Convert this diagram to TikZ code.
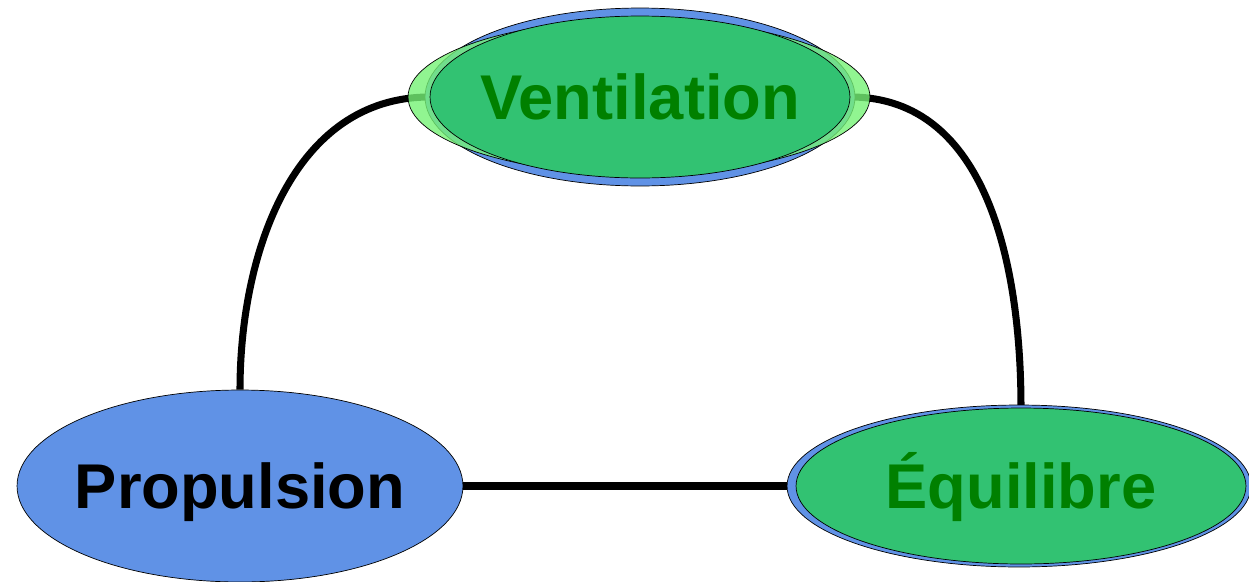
\documentclass[tikz,border=0pt]{standalone}
\usepackage{fontspec}
\setmainfont{Liberation Sans}
\usetikzlibrary{shapes.geometric}

\pgfdeclarelayer{background}
\pgfsetlayers{background,main}

\definecolor{poolblue}{RGB}{96,146,230}
\definecolor{poolgreen}{RGB}{50,194,114}
\definecolor{palegreen}{RGB}{118,242,118}
\definecolor{labelgreen}{RGB}{0,128,0}

\tikzset{%
  every pool/.style={
    ellipse,
    draw,
    thin,
    inner sep=0pt
  },
  pool blue/.style={
    fill=poolblue
  },
  pool green/.style={
    fill=poolgreen
  },
  pool pale/.style={
    fill=palegreen,
    fill opacity=0.8
  },
  pool label/.style={
    font=\bfseries\fontsize{36}{43}\selectfont,
    text height=0.91cm,
    text depth=0pt,
    inner sep=0pt
  },
  link/.style={
    line width=4pt
  }
}

\begin{document}
\begin{tikzpicture}[x=0.02cm, y=-0.02cm]
\useasboundingbox (0,0) rectangle (1249,582);

% Ventilation
\node [every pool, pool blue, minimum width=8.6cm, minimum height=3.56cm] (vent-back) at (640,97) {};
\node [every pool, pool pale, minimum width=9.24cm, minimum height=3.1cm] (vent-rim) at (639,97) {};
\node [every pool, pool green, minimum width=8.4cm, minimum height=3.24cm,
  label={[pool label, text=labelgreen]center:Ventilation}] (vent) at (640,97) {};

% Propulsion
\node [every pool, pool blue, minimum width=8.92cm, minimum height=3.84cm,
  label={[pool label, text=black]center:Propulsion}] (prop) at (240,486) {};

% Equilibre
\node [every pool, pool blue, minimum width=9.28cm, minimum height=3.24cm] (equi-back) at (1019,486) {};
\node [every pool, pool green, minimum width=9.0cm, minimum height=3.12cm,
  label={[pool label, text=labelgreen]center:Équilibre}] (equi) at (1021,486) {};

\begin{pgfonlayer}{background}
\draw [link] (vent.west) to [out=180, in=90] (prop.north);
\draw [link] (vent.east) to [out=0, in=90] (equi.north);
\draw [link] (prop.east) -- (equi-back.west);
\end{pgfonlayer}

\end{tikzpicture}
\end{document}
